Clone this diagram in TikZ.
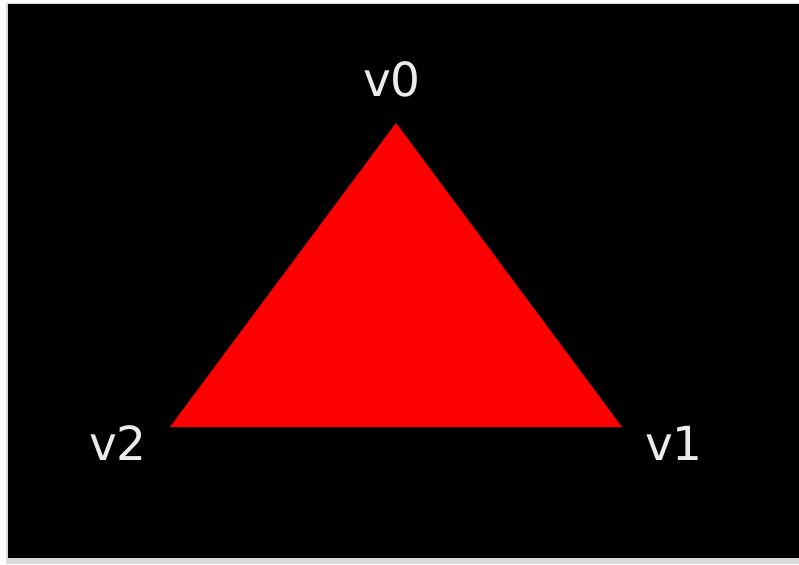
\documentclass[tikz,border=0pt]{standalone}
\usepackage{fontspec}
\setmainfont{DejaVu Sans}
\usetikzlibrary{calc}
\tikzset{
  vlabel/.style={text=white!92!black, font=\fontsize{47}{56}\selectfont, inner sep=0pt, anchor=center}
}
\begin{document}
\begin{tikzpicture}[x=1pt,y=-1pt]
  % frame
  \fill[white!85!black] (0,0) rectangle (799,564);
  \fill[white] (0,0) rectangle (799,3);
  \fill[white] (0,0) rectangle (6,564);
  \fill[black] (8,4) rectangle (799,558);
  \useasboundingbox (0,0) rectangle (799,564);
  % corners of the triangle
  \coordinate (v0) at (396,123);
  \coordinate (v1) at (622,427);
  \coordinate (v2) at (170,427);
  \fill[red] (v0) -- (v1) -- (v2) -- cycle;
  % labels
  \node[vlabel] (lab0) at (392,79) {v0};
  \node[vlabel] (lab1) at (674,443) {v1};
  \node[vlabel] (lab2) at (118,443) {v2};
\end{tikzpicture}
\end{document}
